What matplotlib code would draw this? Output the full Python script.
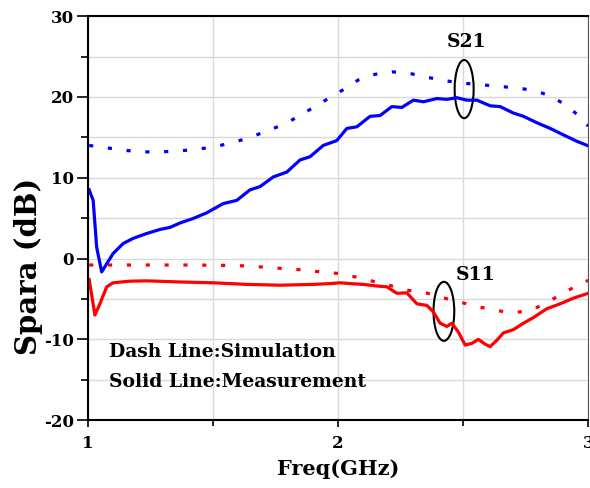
import matplotlib.pyplot as plt
from matplotlib.patches import Ellipse
from matplotlib.ticker import MultipleLocator

# S21 measured
s21_meas_f = [1.005, 1.021, 1.035, 1.055, 1.101, 1.141, 1.181, 1.235, 1.288, 1.328,
              1.368, 1.421, 1.475, 1.541, 1.595, 1.648, 1.688, 1.741, 1.795, 1.848,
              1.888, 1.941, 1.995, 2.035, 2.075, 2.128, 2.168, 2.215, 2.255, 2.301,
              2.341, 2.395, 2.435, 2.475, 2.515, 2.555, 2.608, 2.648, 2.701, 2.741,
              2.795, 2.848, 2.901, 2.955, 3.0]
s21_meas_db = [8.5, 7.2, 1.4, -1.65, 0.63, 1.86, 2.5, 3.1, 3.6, 3.85,
               4.4, 4.96, 5.66, 6.8, 7.2, 8.5, 8.9, 10.1, 10.7, 12.2,
               12.6, 14.0, 14.6, 16.1, 16.3, 17.6, 17.7, 18.8, 18.7, 19.6,
               19.4, 19.8, 19.7, 19.9, 19.6, 19.6, 18.9, 18.8, 18.0, 17.6,
               16.8, 16.1, 15.3, 14.5, 13.95]

# S21 simulated
s21_sim_f = [1.005, 1.075, 1.145, 1.217, 1.288, 1.359, 1.431, 1.501, 1.572, 1.641,
             1.708, 1.775, 1.837, 1.899, 1.961, 2.021, 2.081, 2.148, 2.219, 2.288,
             2.361, 2.428, 2.501, 2.575, 2.645, 2.717, 2.784, 2.851, 2.915, 2.968, 3.0]
s21_sim_db = [14.0, 13.7, 13.4, 13.2, 13.2, 13.3, 13.5, 13.8, 14.3, 14.9,
              15.7, 16.5, 17.5, 18.65, 19.8, 20.9, 22.1, 22.8, 23.1, 22.9,
              22.4, 22.0, 21.7, 21.5, 21.3, 21.1, 20.8, 20.1, 18.9, 17.5, 16.4]

# S11 measured
s11_meas_f = [1.005, 1.028, 1.048, 1.075, 1.101, 1.168, 1.235, 1.368, 1.501, 1.635,
              1.768, 1.901, 1.968, 2.008, 2.048, 2.101, 2.155, 2.195, 2.235, 2.275,
              2.315, 2.355, 2.381, 2.408, 2.435, 2.455, 2.481, 2.508, 2.535, 2.561,
              2.588, 2.608, 2.635, 2.661, 2.701, 2.741, 2.781, 2.835, 2.888, 2.941, 3.0]
s11_meas_db = [-2.6, -7.0, -5.6, -3.5, -3.0, -2.8, -2.76, -2.9, -3.0, -3.2,
               -3.3, -3.2, -3.1, -3.0, -3.1, -3.2, -3.4, -3.5, -4.3, -4.25,
               -5.6, -5.8, -6.6, -8.0, -8.4, -8.0, -9.1, -10.7, -10.5, -10.0,
               -10.6, -10.9, -10.1, -9.2, -8.8, -8.0, -7.3, -6.2, -5.6, -4.9, -4.3]

# S11 simulated
s11_sim_f = [1.005, 1.2, 1.4, 1.575, 1.648, 1.721, 1.791, 1.861, 1.928, 2.001,
             2.067, 2.133, 2.204, 2.273, 2.352, 2.413, 2.484, 2.551, 2.628, 2.691,
             2.76, 2.829, 2.891, 2.953, 3.0]
s11_sim_db = [-0.8, -0.8, -0.8, -0.85, -0.94, -1.1, -1.27, -1.4, -1.65, -1.85,
              -2.26, -2.76, -3.3, -3.9, -4.25, -4.8, -5.36, -5.9, -6.4, -6.7,
              -6.5, -5.6, -4.4, -3.4, -2.7]

serif = ['DejaVu Serif']
plt.rcParams['axes.unicode_minus'] = False

fig = plt.figure(figsize=(5.9, 4.88), dpi=100)
ax = fig.add_axes([0.149, 0.139, 0.848, 0.828])

dots = (0, (1.3, 4.6))
ax.plot(s21_sim_f, s21_sim_db, color='#0000ff', lw=2.3, linestyle=dots)
ax.plot(s11_sim_f, s11_sim_db, color='#ff0000', lw=2.3, linestyle=dots)
ax.plot(s21_meas_f, s21_meas_db, color='#0000ff', lw=2.3)
ax.plot(s11_meas_f, s11_meas_db, color='#ff0000', lw=2.3)

ax.set_xlim(1, 3)
ax.set_ylim(-20, 30)
ax.xaxis.set_major_locator(MultipleLocator(1))
ax.xaxis.set_minor_locator(MultipleLocator(0.5))
ax.yaxis.set_major_locator(MultipleLocator(10))
ax.yaxis.set_minor_locator(MultipleLocator(5))
ax.grid(True, which='both', color='#d9d9d9', lw=1)
ax.set_axisbelow(True)
ax.tick_params(which='major', length=8, width=1.2, labelsize=12, pad=2)
ax.tick_params(which='minor', length=5, width=1.2)
ax.tick_params(axis='x', which='major', length=5, pad=6)
ax.tick_params(axis='x', which='minor', length=4)
for lab in ax.get_xticklabels() + ax.get_yticklabels():
    lab.set_family(serif)
    lab.set_fontweight('bold')

for s in ['left', 'bottom', 'top']:
    ax.spines[s].set_linewidth(1.5)
ax.spines['right'].set_color('#555555')

ax.set_xlabel('Freq(GHz)', family=serif, fontweight='bold', fontsize=15, labelpad=5)
ax.set_ylabel('Spara (dB)', family=serif, fontweight='bold', fontsize=21)
ax.yaxis.set_label_coords(-0.09, 0.38)

ax.add_patch(Ellipse((2.504, 20.97), 0.076, 7.2, fill=False, color='black', lw=1.5))
ax.add_patch(Ellipse((2.423, -6.53), 0.083, 7.3, fill=False, color='black', lw=1.5))
ax.text(2.515, 26.8, 'S21', family=serif, fontweight='bold', fontsize=13.5,
        ha='center', va='center')
ax.text(2.548, -2.05, 'S11', family=serif, fontweight='bold', fontsize=13.5,
        ha='center', va='center')
ax.text(1.084, -11.6, 'Dash Line:Simulation', family=serif, fontweight='bold',
        fontsize=13.5, ha='left', va='center')
ax.text(1.084, -15.3, 'Solid Line:Measurement', family=serif, fontweight='bold',
        fontsize=13.5, ha='left', va='center')

fig.savefig('out.png', dpi=100)
